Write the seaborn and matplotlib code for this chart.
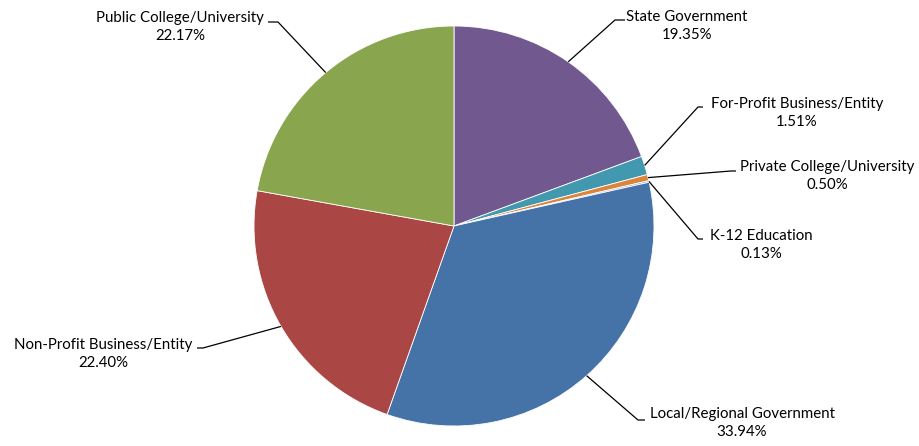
import numpy as np
import matplotlib
matplotlib.use("Agg")
import matplotlib.pyplot as plt
import seaborn as sns

# slices, clockwise from 12 o'clock
categories = [
    "State Government",
    "For-Profit Business/Entity",
    "Private College/University",
    "K-12 Education",
    "Local/Regional Government",
    "Non-Profit Business/Entity",
    "Public College/University",
]
shares = [19.35, 1.51, 0.50, 0.13, 33.94, 22.40, 22.17]
colors = ["#71588F", "#4198AF", "#DB843D", "#93A9CF", "#4572A7", "#AA4643", "#89A54E"]

# label centre, elbow of the leader line, end of its short horizontal tick (pixels)
label_pos = [(687, 26), (797, 113), (827, 176), (761, 245), (742, 423), (103, 354), (180, 27)]
elbows = [(615, 20), (698, 107), (731, 171), (698, 239), (638, 420), (203, 348), (278, 22)]
tick_ends = [(625, 20), (703, 107), (736, 171), (703, 239), (645, 420), (197, 348), (268, 22)]

sns.set_theme(style="white")
plt.rcParams["font.family"] = ["Lato", "DejaVu Sans"]

fig = plt.figure(figsize=(9.19, 4.46), dpi=100)
ax = fig.add_axes([0, 0, 1, 1])

cx, cy, r = 454, 226, 200
ax.pie(shares, colors=colors, startangle=-90, counterclock=True,
       center=(cx, cy), radius=r, frame=False,
       wedgeprops=dict(edgecolor="white", linewidth=0.6))
ax.set_xlim(0, 919)
ax.set_ylim(446, 0)
ax.set_aspect("equal")
ax.axis("off")

cum = 0.0
for name, v, (tx, ty), (ex, ey), (hx, hy) in zip(categories, shares, label_pos, elbows, tick_ends):
    a = np.deg2rad(360 * (cum + v / 2) / 100)
    cum += v
    px, py = cx + r * np.sin(a), cy - r * np.cos(a)
    ax.plot([px, ex, hx], [py, ey, hy], color="black", lw=0.9, solid_capstyle="butt")
    ax.text(tx, ty, f"{name}\n{v:.2f}%", ha="center", va="center",
            fontsize=10.8, linespacing=1.38, color="black")

fig.savefig("out.png", dpi=100)
